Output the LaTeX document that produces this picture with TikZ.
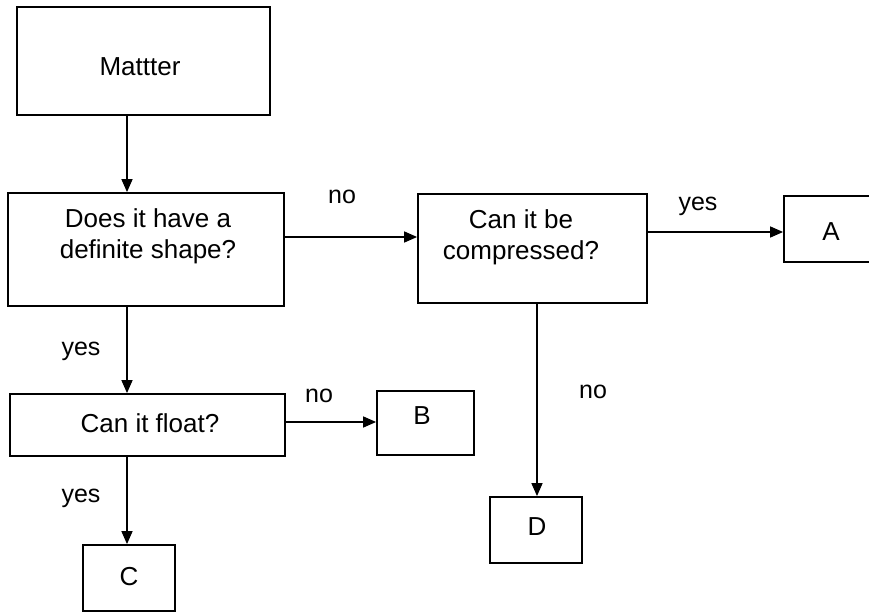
\documentclass[tikz,border=0pt]{standalone}
\usepackage{fontspec}
\setmainfont{Liberation Sans}
\usetikzlibrary{arrows.meta}
\begin{document}
\begin{tikzpicture}[x=1pt,y=-1pt,
  box/.style={draw=black,line width=1.8pt,rectangle,inner sep=0pt},
  txt/.style={font=\fontsize{26}{31}\selectfont,inner sep=0pt,align=center},
  lbl/.style={font=\fontsize{25}{28}\selectfont,inner sep=0pt},
  arr/.style={draw=black,line width=1.5pt,-{Triangle[length=13pt,width=11pt]}}]
\useasboundingbox (0,0) rectangle (869,612);
\clip (0,0) rectangle (869,612);
% boxes
\node[box,minimum width=253pt,minimum height=108pt] (matter) at (143.5,61) {};
\node[box,minimum width=276pt,minimum height=113pt] (shape) at (146,249.5) {};
\node[box,minimum width=229pt,minimum height=109pt] (comp) at (532.5,248.5) {};
\node[box,minimum width=96pt,minimum height=66pt] (A) at (832,229) {};
\node[box,minimum width=275pt,minimum height=62pt] (float) at (147.5,425) {};
\node[box,minimum width=97pt,minimum height=64pt] (B) at (425.5,423) {};
\node[box,minimum width=92pt,minimum height=66pt] (C) at (129,578) {};
\node[box,minimum width=92pt,minimum height=66pt] (D) at (536,530) {};
% texts
\node[txt] (tmatter) at (140,67) {Mattter};
\node[txt] (tshape) at (148,236) {Does it have a\\definite shape?};
\node[txt] (tcomp) at (521,237) {Can it be\\compressed?};
\node[txt] (tA) at (831,232) {A};
\node[txt] (tfloat) at (150,423) {Can it float?};
\node[txt] (tB) at (422,416) {B};
\node[txt] (tC) at (129,577) {C};
\node[txt] (tD) at (537,527) {D};
% column coordinates
\coordinate (colL) at (127,0);
\coordinate (colD) at (537,0);
% connectors
\draw[arr] (matter.south -| colL) -- (shape.north -| colL);
\draw[arr] (shape.east |- 0,237) -- (comp.west |- 0,237);
\draw[arr] (comp.east |- 0,232) -- (A.west |- 0,232);
\draw[arr] (comp.south -| colD) -- (D.north -| colD);
\draw[arr] (shape.south -| colL) -- (float.north -| colL);
\draw[arr] (float.east |- 0,422) -- (B.west |- 0,422);
\draw[arr] (float.south -| colL) -- (C.north -| colL);
% labels
\node[lbl] (lno1) at (342,197) {no};
\node[lbl] (lyes1) at (698,206) {yes};
\node[lbl] (lno2) at (593,392) {no};
\node[lbl] (lyes2) at (81,351) {yes};
\node[lbl] (lno3) at (319,396) {no};
\node[lbl] (lyes3) at (81,498) {yes};
\end{tikzpicture}
\end{document}
